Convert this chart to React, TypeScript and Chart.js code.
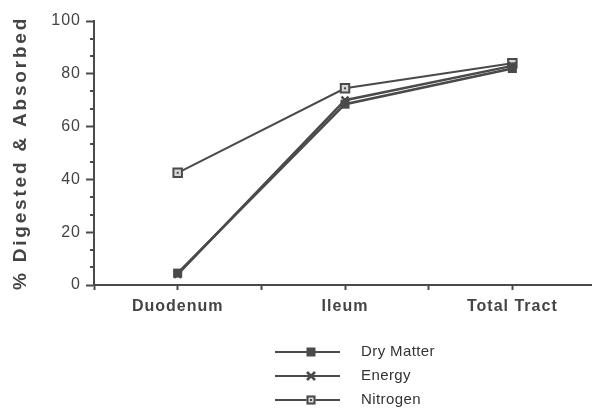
import React, { useEffect, useRef } from "react";
import { Chart, registerables } from "chart.js";

Chart.register(...registerables);

const categories = ["Duodenum", "Ileum", "Total Tract"];
const dryMatter = [4.5, 68.5, 82];
const energy = [4, 70, 83];
const nitrogen = [42.5, 74.5, 84];
const yTickLabels = [0, 20, 40, 60, 80, 100];
const seriesNames = ["Dry Matter", "Energy", "Nitrogen"];

const INK = "#4a4a4a";
const FONT = "'Liberation Sans', Arial, sans-serif";

export default function App() {
  const ref = useRef<HTMLCanvasElement | null>(null);

  useEffect(() => {
    const canvas = ref.current;
    if (!canvas) return;

    const toPts = (arr: number[]) => arr.map((v, i) => ({ x: i, y: v }));

    const minorY: number[] = [];
    for (let k = 0; k <= 15; k++) minorY.push((k * 20) / 3);

    const drawMarker = (ctx: CanvasRenderingContext2D, style: number, x: number, y: number) => {
      ctx.save();
      ctx.strokeStyle = INK;
      ctx.fillStyle = INK;
      if (style === 0) {
        ctx.fillRect(x - 4.5, y - 4.5, 9, 9);
      } else if (style === 1) {
        ctx.lineWidth = 2.5;
        ctx.beginPath();
        ctx.moveTo(x - 4, y - 4);
        ctx.lineTo(x + 4, y + 4);
        ctx.moveTo(x + 4, y - 4);
        ctx.lineTo(x - 4, y + 4);
        ctx.stroke();
      } else {
        ctx.fillStyle = "#d8d8d8";
        ctx.fillRect(x - 4.5, y - 4.5, 9, 9);
        ctx.lineWidth = 2;
        ctx.strokeRect(x - 3.5, y - 3.5, 7, 7);
        ctx.fillStyle = INK;
        ctx.fillRect(x - 1, y - 1, 2, 2);
      }
      ctx.restore();
    };

    const spacingPlugin = {
      id: "spacing",
      beforeDraw(chart: any) {
        chart.ctx.letterSpacing = "2.8px";
      },
      afterDatasetsDraw(chart: any) {
        chart.ctx.letterSpacing = "1px";
        const meta = chart.getDatasetMeta(2);
        const ctx = chart.ctx;
        ctx.save();
        ctx.fillStyle = INK;
        meta.data.forEach((p: any) => ctx.fillRect(p.x - 1, p.y - 1, 2, 2));
        ctx.restore();
      },
      afterDraw(chart: any) {
        const ctx = chart.ctx as CanvasRenderingContext2D;
        const ys = chart.scales.y;
        const left = chart.chartArea.left;
        ctx.save();
        ctx.strokeStyle = INK;
        ctx.lineWidth = 2;
        minorY.forEach((v, k) => {
          if (k % 3 === 0) return;
          const py = Math.round(ys.getPixelForValue(v));
          ctx.beginPath();
          ctx.moveTo(left - 4, py);
          ctx.lineTo(left, py);
          ctx.stroke();
        });
        ctx.restore();

        ctx.save();
        ctx.letterSpacing = "0.4px";
        const rows = [352, 376, 400];
        seriesNames.forEach((name, i) => {
          const y = rows[i];
          ctx.strokeStyle = INK;
          ctx.lineWidth = 2;
          ctx.beginPath();
          ctx.moveTo(275, y);
          ctx.lineTo(340, y);
          ctx.stroke();
          drawMarker(ctx, i, 311, y);
          ctx.fillStyle = "#333";
          ctx.font = `15px ${FONT}`;
          ctx.textAlign = "left";
          ctx.textBaseline = "middle";
          ctx.fillText(name, 361, y);
        });
        ctx.restore();
      },
    };

    const chart = new Chart(canvas, {
      type: "line",
      data: {
        datasets: [
          {
            label: seriesNames[0],
            data: toPts(dryMatter),
            borderColor: INK,
            backgroundColor: INK,
            borderWidth: 2.5,
            pointStyle: "rect",
            pointRadius: 6.4,
            pointBorderWidth: 0,
            pointBackgroundColor: INK,
          },
          {
            label: seriesNames[1],
            data: toPts(energy),
            borderColor: INK,
            backgroundColor: INK,
            borderWidth: 2.5,
            pointStyle: "crossRot",
            pointRadius: 5,
            pointBorderWidth: 2.5,
            pointBorderColor: INK,
          },
          {
            label: seriesNames[2],
            data: toPts(nitrogen),
            borderColor: INK,
            backgroundColor: "#d8d8d8",
            borderWidth: 2,
            pointStyle: "rect",
            pointRadius: 6,
            pointBorderWidth: 2,
            pointBorderColor: INK,
            pointBackgroundColor: "#d8d8d8",
          },
        ],
      },
      options: {
        animation: false,
        responsive: false,
        devicePixelRatio: 1,
        layout: { padding: { top: 21, right: 0, left: 0, bottom: 0 } },
        plugins: { legend: { display: false }, tooltip: { enabled: false } },
        scales: {
          x: {
            type: "linear",
            min: -0.5,
            max: 2.47,
            afterFit: (s: any) => {
              s.height = 125;
            },
            afterBuildTicks: (s: any) => {
              s.ticks = [-0.5, 0, 0.5, 1, 1.5, 2].map((v) => ({ value: v }));
            },
            grid: {
              drawOnChartArea: false,
              drawTicks: true,
              tickLength: 5,
              tickWidth: 2,
              tickColor: INK,
              z: -1,
            },
            border: { display: true, color: INK, width: 2 },
            ticks: {
              z: 1,
              autoSkip: false,
              maxRotation: 0,
              padding: 7,
              color: "#444",
              font: { family: FONT, size: 16, weight: "bold" },
              callback: (v: any) => {
                const n = Number(v);
                return Number.isInteger(n) && categories[n] ? categories[n] : "";
              },
            },
          },
          y: {
            type: "linear",
            min: 0,
            max: 100,
            afterFit: (s: any) => {
              s.width = 94;
            },
            afterBuildTicks: (s: any) => {
              s.ticks = yTickLabels.map((v) => ({ value: v }));
            },
            grid: {
              drawOnChartArea: false,
              drawTicks: true,
              tickLength: 8,
              tickWidth: 2,
              tickColor: INK,
              z: -1,
            },
            border: { display: true, color: INK, width: 2 },
            ticks: {
              z: 1,
              padding: 5,
              color: "#444",
              font: { family: FONT, size: 16 },
              callback: (v: any) => String(v),
            },
            title: {
              display: true,
              text: "% Digested & Absorbed",
              color: "#444",
              font: { family: FONT, size: 19, weight: "bold" },
              padding: { top: 9, bottom: 0 },
            },
          },
        },
      },
      plugins: [spacingPlugin],
    } as any);

    return () => chart.destroy();
  }, []);

  return (
    <div style={{ position: "fixed", left: 0, top: 0, width: 599, height: 410, background: "#fff" }}>
      <canvas ref={ref} width={599} height={410} style={{ display: "block", width: 599, height: 410 }} />
    </div>
  );
}
